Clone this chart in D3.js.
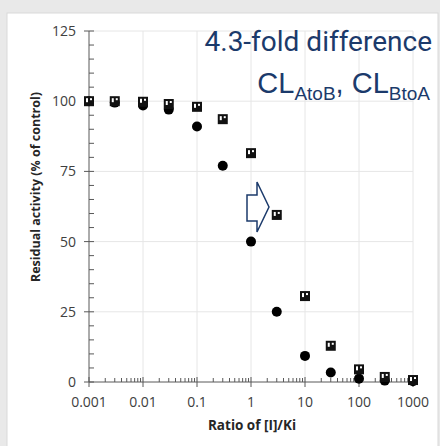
<!DOCTYPE html>
<html>
<head>
<meta charset="utf-8">
<script src="https://cdn.jsdelivr.net/npm/d3@7"></script>
<style>
  body { margin: 0; background: #e9e9e9; }
  svg { display: block; }
</style>
</head>
<body>
<div id="chart"></div>
<script>
// data
const ratios = [0.001, 0.003, 0.01, 0.03, 0.1, 0.3, 1, 3, 10, 30, 100, 300, 1000];
const circleVals = [100, 99.5, 98.5, 97, 91, 77, 50, 25, 9.3, 3.4, 1.2, 0.5, 0.3];
const squareVals = [100, 100, 99.8, 99, 98, 93.6, 81.5, 59.5, 30.6, 12.9, 4.5, 1.8, 0.7];
const xTicks = [0.001, 0.01, 0.1, 1, 10, 100, 1000];
const yTicks = [0, 25, 50, 75, 100, 125];

const width = 440, height = 446;
const navy = "#1b3a6b";
const labelFont = "'Open Sans', sans-serif";

const svg = d3.select("#chart").append("svg")
    .attr("width", width)
    .attr("height", height);

// white panel
svg.append("rect")
    .attr("x", 7).attr("y", 13)
    .attr("width", 431).attr("height", 440)
    .attr("fill", "#fff")
    .attr("stroke", "#d9d9d9");

const xScale = d3.scaleLog().domain([0.001, 1000]).range([89, 413]);
const yScale = d3.scaleLinear().domain([0, 125]).range([382, 31]);

// grid
svg.append("g").selectAll("line")
    .data(xTicks.slice(1))
    .enter().append("line")
    .attr("x1", d => xScale(d)).attr("x2", d => xScale(d))
    .attr("y1", yScale(125)).attr("y2", yScale(0))
    .attr("stroke", "#e6e6e6");
svg.append("g").selectAll("line")
    .data(yTicks.slice(1))
    .enter().append("line")
    .attr("x1", xScale(0.001)).attr("x2", xScale(1000))
    .attr("y1", d => yScale(d)).attr("y2", d => yScale(d))
    .attr("stroke", "#e6e6e6");

// y axis
const yAxis = svg.append("g")
    .attr("transform", "translate(" + xScale(0.001) + ",0)");
yAxis.append("line")
    .attr("y1", yScale(125)).attr("y2", yScale(0))
    .attr("stroke", "#595959");
yAxis.selectAll(".minor")
    .data(d3.range(0, 126, 5))
    .enter().append("line")
    .attr("x1", d => d % 25 === 0 ? -5 : 0)
    .attr("x2", 5)
    .attr("y1", d => yScale(d)).attr("y2", d => yScale(d))
    .attr("stroke", "#595959");
yAxis.selectAll("text")
    .data(yTicks)
    .enter().append("text")
    .attr("x", -13)
    .attr("y", d => yScale(d) + 5)
    .attr("text-anchor", "end")
    .attr("font-family", labelFont)
    .attr("font-size", "14px")
    .attr("fill", "#404040")
    .text(d => d);

// x axis
const minorX = [];
xTicks.forEach(function(t) {
    if (t < 1000) {
        for (let k = 2; k < 10; k++) minorX.push(t * k);
    }
});
const xAxis = svg.append("g")
    .attr("transform", "translate(0," + yScale(0) + ")");
xAxis.append("line")
    .attr("x1", xScale(0.001)).attr("x2", xScale(1000))
    .attr("stroke", "#595959");
xAxis.selectAll(".minor")
    .data(minorX)
    .enter().append("line")
    .attr("x1", d => xScale(d)).attr("x2", d => xScale(d))
    .attr("y1", -4).attr("y2", 0)
    .attr("stroke", "#595959");
xAxis.selectAll(".major")
    .data(xTicks)
    .enter().append("line")
    .attr("x1", d => xScale(d)).attr("x2", d => xScale(d))
    .attr("y1", -5).attr("y2", 5)
    .attr("stroke", "#595959");
xAxis.selectAll("text")
    .data(xTicks)
    .enter().append("text")
    .attr("x", d => xScale(d))
    .attr("y", 25)
    .attr("text-anchor", "middle")
    .attr("font-family", labelFont)
    .attr("font-size", "14px")
    .attr("fill", "#404040")
    .text(d => d);

// axis titles
svg.append("text")
    .attr("transform", "translate(40,187) rotate(-90)")
    .attr("text-anchor", "middle")
    .attr("font-family", labelFont)
    .attr("font-weight", "bold")
    .attr("font-size", "12.5px")
    .attr("fill", "#262626")
    .text("Residual activity (% of control)");
svg.append("text")
    .attr("x", 252).attr("y", 430)
    .attr("text-anchor", "middle")
    .attr("font-family", labelFont)
    .attr("font-weight", "bold")
    .attr("font-size", "13.5px")
    .attr("fill", "#262626")
    .text("Ratio of [I]/Ki");

// circles
svg.append("g").selectAll("circle")
    .data(ratios.map((r, i) => ({x: r, y: circleVals[i]})))
    .enter().append("circle")
    .attr("cx", d => xScale(d.x))
    .attr("cy", d => yScale(d.y))
    .attr("r", 5)
    .attr("fill", "#000");

// squares
const sq = svg.append("g").selectAll("g")
    .data(ratios.map((r, i) => ({x: r, y: squareVals[i]})))
    .enter().append("g")
    .attr("transform", d => "translate(" + xScale(d.x) + "," + yScale(d.y) + ")");
sq.append("rect")
    .attr("x", -5).attr("y", -5)
    .attr("width", 10).attr("height", 10)
    .attr("fill", "#111");
sq.append("rect")
    .attr("x", -3).attr("y", -3)
    .attr("width", 2).attr("height", 4)
    .attr("fill", "#fff");
sq.append("rect")
    .attr("x", 1).attr("y", -3)
    .attr("width", 2).attr("height", 2)
    .attr("fill", "#fff");

// annotations
svg.append("text")
    .attr("x", 432).attr("y", 51)
    .attr("text-anchor", "end")
    .attr("font-family", "'Liberation Sans Narrow', 'Roboto', sans-serif")
    .attr("font-size", "28px")
    .attr("fill", navy)
    .text("4.3-fold difference");

const cl = svg.append("text")
    .attr("x", 430).attr("y", 93)
    .attr("text-anchor", "end")
    .attr("font-family", "'Liberation Sans', Arial, sans-serif")
    .attr("font-size", "29px")
    .attr("fill", navy);
cl.append("tspan").text("CL");
cl.append("tspan").attr("font-size", "19px").attr("dy", 7).text("AtoB");
cl.append("tspan").attr("dy", -7).text(", CL");
cl.append("tspan").attr("font-size", "19px").attr("dy", 7).text("BtoA");

// block arrow
svg.append("path")
    .attr("d", "M247,195 L257,195 L257,182 L269,207 L257,232 L257,221 L247,221 Z")
    .attr("fill", "#fff")
    .attr("stroke", navy)
    .attr("stroke-width", 1.5);
</script>
</body>
</html>
